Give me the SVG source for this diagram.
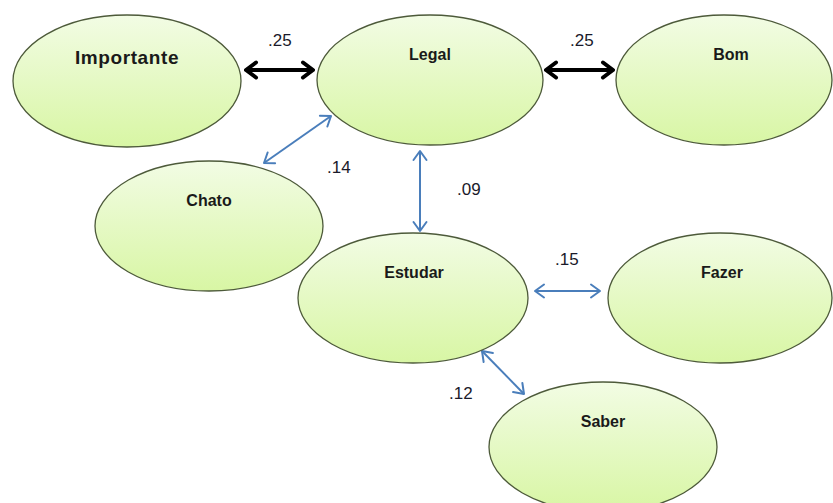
<svg xmlns="http://www.w3.org/2000/svg" width="833" height="503" viewBox="0 0 833 503">
  <style>
    .node { stroke: #4d5a3a; stroke-width: 1.3; fill: url(#bubble); }
    .lbl { font-family: "Liberation Sans", Arial, sans-serif; font-weight: bold; font-size: 16px; fill: #1a1a1a; text-anchor: middle; }
    .big { font-size: 19px; letter-spacing: 0.6px; }
    .num { font-family: "Liberation Sans", Arial, sans-serif; font-size: 17px; fill: #1a1a2a; }
    .strong { stroke: #000; stroke-width: 4; fill: none; marker-start: url(#headK); marker-end: url(#headK); }
    .weak { stroke: #4a7ebb; stroke-width: 2; fill: none; marker-start: url(#headB); marker-end: url(#headB); }
  </style>
  <defs>
    <linearGradient id="bubble" x1="0" y1="0" x2="0" y2="1">
      <stop offset="0" stop-color="#f2fce4"/>
      <stop offset="1" stop-color="#d8f6a4"/>
    </linearGradient>
    <marker id="headK" markerUnits="userSpaceOnUse" viewBox="-14 -10 16 20" refX="0" refY="0" markerWidth="16" markerHeight="20" orient="auto-start-reverse">
      <path d="M -10 -7.5 L 0 0 L -10 7.5" fill="none" stroke="#000" stroke-width="4" stroke-linecap="round" stroke-linejoin="round"/>
    </marker>
    <marker id="headB" markerUnits="userSpaceOnUse" viewBox="-14 -10 16 20" refX="0" refY="0" markerWidth="16" markerHeight="20" orient="auto-start-reverse">
      <path d="M -9 -6.5 L 0 0 L -9 6.5" fill="none" stroke="#4a7ebb" stroke-width="2" stroke-linecap="round" stroke-linejoin="round"/>
    </marker>
  </defs>

  <rect width="833" height="503" fill="#fff"/>

  <!-- connectors -->
  <g id="connectors">
    <line class="strong" x1="246" y1="70" x2="313" y2="70"/>
    <line class="strong" x1="546" y1="70" x2="613" y2="70"/>
    <line class="weak" x1="264" y1="163" x2="331" y2="116"/>
    <line class="weak" x1="420" y1="151" x2="420" y2="231"/>
    <line class="weak" x1="535" y1="291" x2="600" y2="291"/>
    <line class="weak" x1="482" y1="351" x2="524" y2="394"/>
  </g>

  <!-- correlation values -->
  <g id="values">
    <text class="num" x="268" y="46">.25</text>
    <text class="num" x="570" y="46">.25</text>
    <text class="num" x="327" y="173">.14</text>
    <text class="num" x="457" y="195">.09</text>
    <text class="num" x="555" y="265">.15</text>
    <text class="num" x="449" y="399">.12</text>
  </g>

  <g id="importante">
    <ellipse class="node" cx="127" cy="81" rx="114" ry="66"/>
    <text class="lbl big" x="127" y="64">Importante</text>
  </g>
  <g id="legal">
    <ellipse class="node" cx="430" cy="80" rx="113" ry="65"/>
    <text class="lbl" x="430" y="60">Legal</text>
  </g>
  <g id="bom">
    <ellipse class="node" cx="724" cy="80" rx="108" ry="65"/>
    <text class="lbl" x="731" y="60">Bom</text>
  </g>
  <g id="chato">
    <ellipse class="node" cx="209" cy="226" rx="114" ry="65"/>
    <text class="lbl" x="209" y="206">Chato</text>
  </g>
  <g id="estudar">
    <ellipse class="node" cx="413" cy="298" rx="115" ry="65"/>
    <text class="lbl" x="414" y="278">Estudar</text>
  </g>
  <g id="fazer">
    <ellipse class="node" cx="720" cy="298" rx="112" ry="65"/>
    <text class="lbl" x="722" y="278">Fazer</text>
  </g>
  <g id="saber">
    <ellipse class="node" cx="603" cy="447" rx="114" ry="65"/>
    <text class="lbl" x="603" y="427">Saber</text>
  </g>
</svg>
